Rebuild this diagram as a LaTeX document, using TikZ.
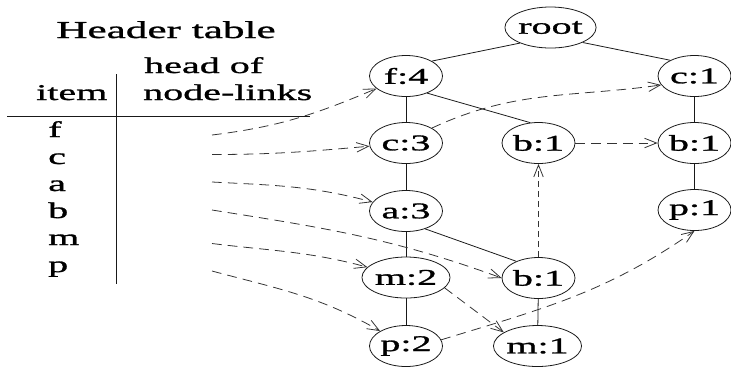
\documentclass[tikz,border=0pt]{standalone}
\usepackage{fontspec}
\newfontfamily\figfont[FakeStretch=1.78,FakeBold=1.2]{Liberation Serif}
\usetikzlibrary{arrows.meta,shapes.geometric}

\begin{document}
\begin{tikzpicture}[>={Straight Barb[length=2.4mm,width=1.9mm]},
every node/.style={font=\figfont\fontsize{12.8}{15}\selectfont},
fpnode/.style={draw=black!90, ellipse, line width=0.45pt, inner sep=0pt, minimum width=1.46cm, minimum height=0.82cm},
treeline/.style={draw=black!90, line width=0.45pt},
nodelink/.style={->, draw=black!80, line width=0.45pt, dash pattern=on 5.5pt off 3.5pt}]
\useasboundingbox (0,0) rectangle (14.62,-7.32);

% header table
\node[anchor=base, font=\figfont\fontsize{13.8}{16}\selectfont] (title) at (3.32,-0.76) {Header table};
\node[anchor=base west] (headof) at (2.76,-1.46) {head of};
\node[anchor=base west] (nodelinks) at (2.74,-2.0) {node-links};
\node[anchor=base west] (item) at (0.6,-2.0) {item};
\draw[treeline] (0.14,-2.32) -- (6.2,-2.32);
\draw[treeline] (2.32,-1.48) -- (2.32,-5.68);
\foreach \itm [count=\i] in {f,c,a,b,m,p}
  \node[anchor=base west] (h\itm) at (0.84,{-2.74-0.54*(\i-1)}) {\itm};
\coordinate (sf) at (4.24,-2.70);
\coordinate (sc) at (4.24,-3.09);
\coordinate (sa) at (4.24,-3.64);
\coordinate (sb) at (4.24,-4.20);
\coordinate (sm) at (4.24,-4.87);
\coordinate (sp) at (4.24,-5.42);

% FP-tree
\node[fpnode] (root) at (11.01,-0.55) {root};
\node[fpnode] (f4) at (8.12,-1.52) {f:4};
\node[fpnode] (c1) at (13.89,-1.52) {c:1};
\node[fpnode] (c3) at (8.12,-2.86) {c:3};
\node[fpnode] (b1a) at (10.77,-2.86) {b:1};
\node[fpnode] (b1b) at (13.89,-2.86) {b:1};
\node[fpnode] (a3) at (8.12,-4.22) {a:3};
\node[fpnode] (p1) at (13.89,-4.20) {p:1};
\node[fpnode] (m2) at (8.12,-5.55) {m:2};
\node[fpnode] (b1c) at (10.77,-5.56) {b:1};
\node[fpnode] (p2) at (8.12,-6.92) {p:2};
\node[fpnode] (m1) at (10.75,-6.92) {m:1};

\draw[treeline] (f4.30) -- (root.-153);
\draw[treeline] (root.-25) -- (c1.147);
\draw[treeline] (f4) -- (c3);
\draw[treeline] (f4.-39) -- (b1a.112);
\draw[treeline] (c3) -- (a3);
\draw[treeline] (a3) -- (m2);
\draw[treeline] (a3.-43) -- (b1c.143);
\draw[treeline] (m2) -- (p2);
\draw[treeline] (b1c) -- (m1);
\draw[treeline] (c1) -- (b1b);
\draw[treeline] (b1b) -- (p1);

% node-links
\draw[nodelink] (sf) to[out=7,in=-157] (f4);
\draw[nodelink] (sc) to[out=0,in=185] (c3);
\draw[nodelink] (sa) to[out=-3,in=165] (a3);
\draw[nodelink] (sb) to[out=-9,in=160] (b1c.west);
\draw[nodelink] (sm) to[out=-7,in=165] (m2);
\draw[nodelink] (sp) to[out=-15,in=150] (p2);
\draw[nodelink] (c3.30) to[out=25,in=188] (c1.195);
\draw[nodelink] (b1a) -- (b1b);
\draw[nodelink, dash pattern=on 3.4pt off 2.3pt] (b1c) -- (b1a);
\draw[nodelink] (m2.-15) -- (m1.158);
\draw[nodelink] (p2.10) to[out=17,in=215] (p1.south);
\end{tikzpicture}
\end{document}
